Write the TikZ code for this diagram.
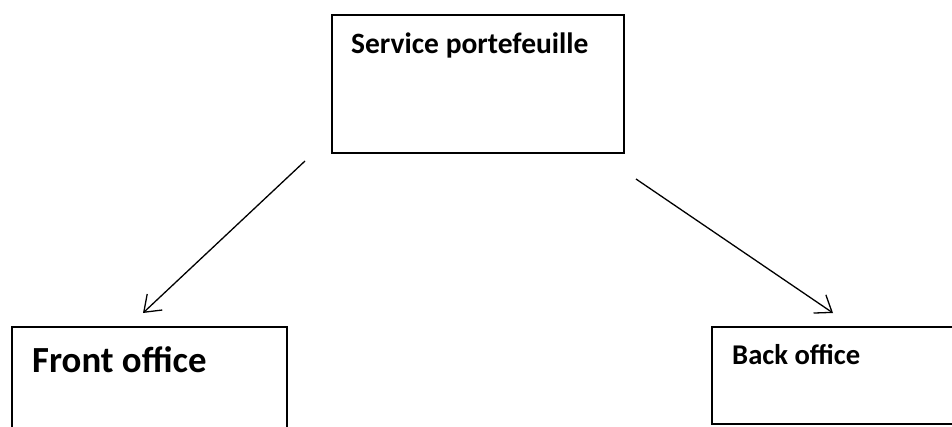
\documentclass[tikz,border=0pt]{standalone}
\usepackage{fontspec}
\setmainfont{Carlito}
\usetikzlibrary{arrows.meta}
\begin{document}
\begin{tikzpicture}[x=1pt,y=-1pt,
  box/.style={draw, line width=1.6pt, anchor=north west, inner sep=0pt},
  link/.style={-{Straight Barb[length=15pt,width=22pt,line width=1.3pt]}, line width=1.3pt},
  lbl/.style={anchor=base west, inner sep=0pt, font=\bfseries}]
\useasboundingbox (0,0) rectangle (952,426);
\clip (0,0) rectangle (952,426);
% boxes
\node[box, minimum width=292pt, minimum height=138pt] (svc) at (331,14) {};
\node[box, minimum width=275pt, minimum height=130pt] (front) at (11,326) {};
\node[box, minimum width=300pt, minimum height=97pt] (back) at (711,326) {};
% labels
\node[lbl, font=\bfseries\fontsize{29.5}{32}\selectfont] (svct) at (351,53) {Service portefeuille};
\node[lbl, font=\bfseries\fontsize{36.8}{40}\selectfont] (frontt) at (32,372) {Front office};
\node[lbl, font=\bfseries\fontsize{28.6}{31}\selectfont] (backt) at (732,364) {Back office};
% connectors
\coordinate (a1) at (305,161);
\coordinate (a2) at (143,313);
\coordinate (b1) at (636,179);
\coordinate (b2) at (833,313);
\draw[link] (a1) -- (a2);
\draw[link] (b1) -- (b2);
\end{tikzpicture}
\end{document}
